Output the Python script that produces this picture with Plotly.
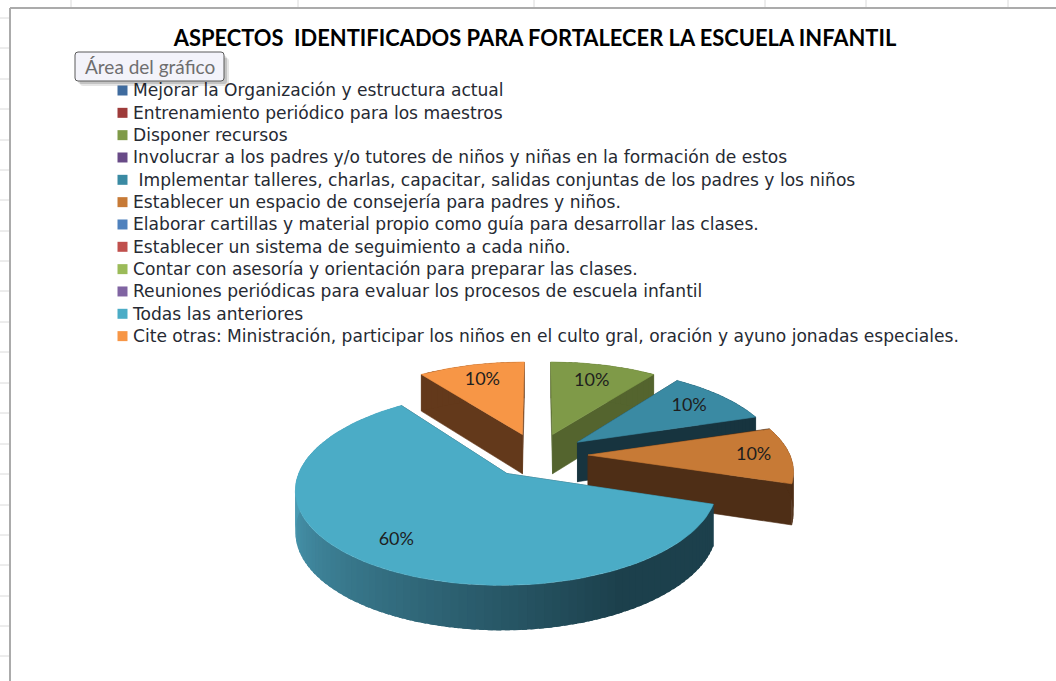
import math
import plotly.graph_objects as go

W, H = 1056, 681

# ---------- data ----------
categories = [
    "Mejorar la Organización y estructura actual",
    "Entrenamiento periódico para los maestros",
    "Disponer recursos",
    "Involucrar a los padres y/o tutores de niños y niñas en la formación de estos",
    " Implementar talleres, charlas, capacitar, salidas conjuntas de los padres y los niños",
    "Establecer un espacio de consejería para padres y niños.",
    "Elaborar cartillas y material propio como guía para desarrollar las clases.",
    "Establecer un sistema de seguimiento a cada niño.",
    "Contar con asesoría y orientación para preparar las clases.",
    "Reuniones periódicas para evaluar los procesos de escuela infantil",
    "Todas las anteriores",
    "Cite otras: Ministración, participar los niños en el culto gral, oración y ayuno jonadas especiales.",
]
values = [0, 0, 10, 0, 10, 10, 0, 0, 0, 0, 60, 10]
legend_colors = ["#3F6B9E", "#9E3B3A", "#7F9A48", "#684A87", "#3A8AA3", "#C77A36",
                 "#4F81BD", "#C0504D", "#9BBB59", "#8064A2", "#4BACC6", "#F79646"]
wall_colors = ["#2A4263", "#632524", "#54642E", "#412E55", "#17343F", "#4E2E16",
               "#31507A", "#7A3230", "#617537", "#503E66", "#1C4350", "#63391B"]
title_text = "ASPECTOS  IDENTIFICADOS PARA FORTALECER LA ESCUELA INFANTIL"
tooltip_text = "Área del gráfico"

# ---------- perspective model of the tilted pie ----------
CX, CY = 537.5, 455.0
RX, RY = 202.0, 89.0
PERSP = 0.149
PULL = 0.25
DEPTH = 40.0
FONT = "Lato"
LEGEND_FONT = "DejaVu Sans"
LABEL_RADIUS = {2: 0.74, 4: 0.76, 5: 0.82, 10: 0.79, 11: 0.76}


def project(u, v, drop=False):
    s = 1.0 / (1.0 + PERSP * v)
    x = CX + RX * u * s
    y = CY - RY * v * s
    if drop:
        y += DEPTH * s ** 0.6
    return x, y


def polar(theta_deg, r, pull_dir):
    t = math.radians(theta_deg)
    m = math.radians(pull_dir)
    return (r * math.sin(t) + PULL * math.sin(m),
            r * math.cos(t) + PULL * math.cos(m))


def mix(a, b, t):
    a = [int(a[i:i + 2], 16) for i in (1, 3, 5)]
    b = [int(b[i:i + 2], 16) for i in (1, 3, 5)]
    return "rgb(%d,%d,%d)" % tuple(round(p + (q - p) * t) for p, q in zip(a, b))


def poly(pts, color):
    xs = [p[0] for p in pts] + [pts[0][0]]
    ys = [p[1] for p in pts] + [pts[0][1]]
    return go.Scatter(x=xs, y=ys, mode="lines", fill="toself", fillcolor=color,
                      line=dict(color=color, width=0.6), hoverinfo="skip", showlegend=False)


fig = go.Figure()

# legend rows, one per category (set in place to keep the reference's line pitch)
LEG_X, LEG_TEXT_X, LEG_Y0, LEG_STEP = 122.5, 133.0, 90.5, 22.33
for row, (name, col) in enumerate(zip(categories, legend_colors)):
    fig.add_trace(go.Scatter(x=[LEG_X], y=[LEG_Y0 + row * LEG_STEP], mode="markers", name=name.strip(),
                             marker=dict(symbol="square", size=10, color=col),
                             hoverinfo="name", showlegend=False))
    fig.add_trace(go.Scatter(x=[LEG_TEXT_X], y=[LEG_Y0 + row * LEG_STEP + 1.5], mode="text",
                             text=[name], textposition="middle right",
                             textfont=dict(family=LEGEND_FONT, size=17.1, color="#262A33"),
                             hoverinfo="skip", showlegend=False, cliponaxis=False))

# slices from the values, clockwise from the top
total = sum(values)
slices = []
start = 0.0
for i, val in enumerate(values):
    sweep = 360.0 * val / total
    if val > 0:
        slices.append((i, start, start + sweep))
    start += sweep


def depth_key(s):
    return math.cos(math.radians((s[1] + s[2]) / 2))


label_texts = []
label_x = []
label_y = []
for i, a, b in sorted(slices, key=depth_key, reverse=True):
    mid = (a + b) / 2
    wall = wall_colors[i]
    top = legend_colors[i]
    apex = polar(0, 0, mid)
    # radial walls
    for edge in (a, b):
        rim = polar(edge, 1, mid)
        fig.add_trace(poly([project(*apex), project(*rim), project(*rim, True), project(*apex, True)], wall))
    # outer rim, strip by strip; each strip runs under the next to hide seams
    n = max(int((b - a) / 2), 6)
    big = (b - a) > 180
    step = (b - a) / n
    for k in range(n):
        t0 = a + step * k
        t1 = min(t0 + 1.6 * step, b)
        pts = [polar(t0 + (t1 - t0) * j / 4, 1, mid) for j in range(5)]
        col = wall
        if big:
            f = min(max((t0 - 150) / (265 - 150), 0), 1)
            col = mix("#1C404C", "#4A9BB4", f)
        top_edge = [project(*p) for p in pts]
        low_edge = [project(*p, True) for p in reversed(pts)]
        fig.add_trace(go.Scatter(x=[p[0] for p in top_edge + low_edge] + [top_edge[0][0]],
                                 y=[p[1] for p in top_edge + low_edge] + [top_edge[0][1]],
                                 mode="lines", fill="toself", fillcolor=col,
                                 line=dict(width=0, color=col), hoverinfo="skip", showlegend=False))
    # top face
    rim_pts = [project(*polar(a + (b - a) * k / 90, 1, mid)) for k in range(91)]
    fig.add_trace(poly([project(*apex)] + rim_pts, top))
    # data label
    lx, ly = project(*polar(mid, LABEL_RADIUS[i], mid))
    label_texts.append("%d%%" % round(100 * values[i] / total))
    label_x.append(lx)
    label_y.append(ly)

fig.add_trace(go.Scatter(x=label_x, y=label_y, text=label_texts, mode="text",
                         textfont=dict(family=FONT, size=18, color="#1E1E1E"),
                         hoverinfo="skip", showlegend=False))

# ---------- spreadsheet backdrop ----------
shapes = []
grid = "#DADADA"
for gy in (18, 48, 79, 109, 140, 170, 200, 231, 261, 291, 322, 352, 383, 413, 444, 474, 505, 535, 565, 596, 626, 656):
    shapes.append(dict(type="line", xref="x", yref="y", x0=0, x1=9, y0=gy, y1=gy,
                       line=dict(color=grid, width=1), layer="below"))
for gx in (71, 298, 534, 765, 866, 1008):
    shapes.append(dict(type="line", xref="x", yref="y", x0=gx, x1=gx, y0=0, y1=7,
                       line=dict(color=grid, width=1), layer="below"))
shapes.append(dict(type="line", xref="x", yref="y", x0=10, x1=10, y0=8, y1=H,
                   line=dict(color="#ABABAB", width=2), layer="below"))
shapes.append(dict(type="line", xref="x", yref="y", x0=10, x1=W, y0=8, y1=8,
                   line=dict(color="#ABABAB", width=2), layer="below"))


def rounded(x0, y0, x1, y1, r):
    return (f"M{x0+r},{y0} L{x1-r},{y0} Q{x1},{y0} {x1},{y0+r} L{x1},{y1-r} Q{x1},{y1} {x1-r},{y1} "
            f"L{x0+r},{y1} Q{x0},{y1} {x0},{y1-r} L{x0},{y0+r} Q{x0},{y0} {x0+r},{y0} Z")


for off, alpha in ((5, 0.10), (3, 0.15)):
    shapes.append(dict(type="path", xref="x", yref="y",
                       path=rounded(75 + off, 53 + off, 224 + off, 81 + off, 3),
                       fillcolor=f"rgba(0,0,0,{alpha})", line=dict(width=0), layer="above"))
shapes.append(dict(type="path", xref="x", yref="y", path=rounded(75, 52, 224, 81, 3),
                   fillcolor="#F3F3FA", line=dict(color="#5A5A5A", width=1), layer="above"))

fig.update_layout(
    width=W, height=H,
    margin=dict(l=0, r=0, t=0, b=0),
    paper_bgcolor="white", plot_bgcolor="white",
    xaxis=dict(range=[0, W], visible=False, fixedrange=True),
    yaxis=dict(range=[H, 0], visible=False, fixedrange=True),
    shapes=shapes,
    showlegend=False,
    title=dict(text=f"<b>{title_text}</b>", x=535 / W, xanchor="center", y=1 - 38 / H, yanchor="middle",
               font=dict(family=FONT, size=21.9, color="#000000")),
    annotations=[dict(text=tooltip_text, x=150, y=66, xref="x", yref="y", showarrow=False,
                      font=dict(family=FONT, size=19, color="#6E6E6E"))],
)

fig.write_html("out.html", config=dict(displayModeBar=False),
               post_script="document.body.style.margin='0';")
